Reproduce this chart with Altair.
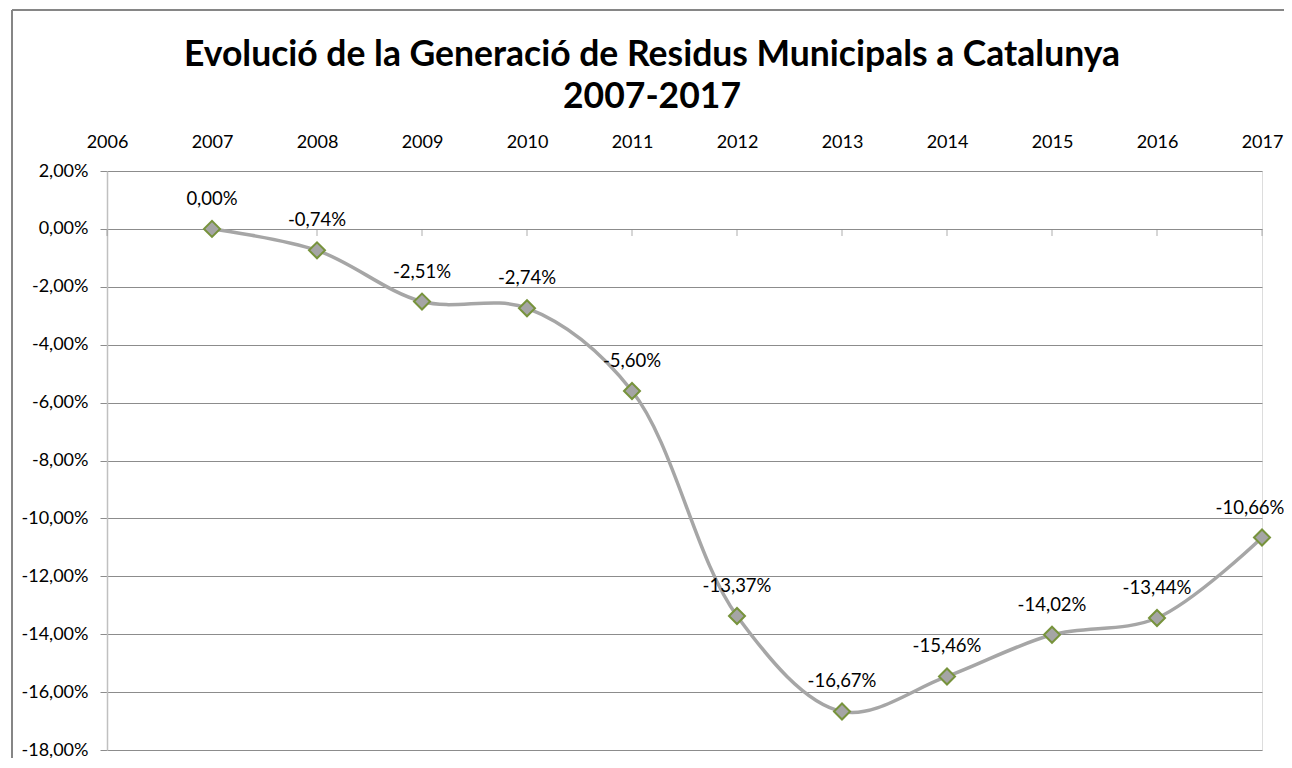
import altair as alt
import pandas as pd

years = [2007, 2008, 2009, 2010, 2011, 2012, 2013, 2014, 2015, 2016, 2017]
values = [0.00, -0.74, -2.51, -2.74, -5.60, -13.37, -16.67, -15.46, -14.02, -13.44, -10.66]
axis_years = list(range(2006, 2018))
y_ticks = list(range(-18, 3, 2))
title_lines = ["Evolució de la Generació de Residus Municipals a Catalunya", "2007-2017"]

df = pd.DataFrame({"year": years, "v": values})
tick_df = pd.DataFrame({"year": axis_years, "v": [0] * len(axis_years)})
one = pd.DataFrame({"k": [0]})

FONT = "Lato"
GRID = "#8c8c8c"
FMT = "replace(replace(format({}, '.2f'), '.', ','), '\u2212', '-') + '%'"

xs = alt.Scale(domain=[2006, 2017], nice=False, zero=False)
ys = alt.Scale(domain=[-18, 2], nice=False, zero=False)

x_enc = alt.X("year:Q", scale=xs, axis=alt.Axis(
    orient="top", values=axis_years, format="d", grid=False, domain=False,
    ticks=False, labelPadding=20, labelFontSize=18, labelFont=FONT,
    labelColor="#000000", title=None, labelFlush=False))
y_enc = alt.Y("v:Q", scale=ys, axis=alt.Axis(
    values=y_ticks, grid=True, gridColor=GRID, gridWidth=1,
    domainColor="#c0c0c0", domainWidth=1.5, tickColor=GRID, tickSize=7,
    labelPadding=12, labelFontSize=18, labelFont=FONT, labelColor="#000000",
    labelExpr=FMT.format("datum.value"),
    title=None))

base = alt.Chart(df)

line = base.mark_line(interpolate="catmull-rom", color="#a6a6a6", strokeWidth=3.5).encode(
    x=x_enc, y=y_enc)

points = base.mark_point(shape="diamond", filled=True, size=256, fill="#a5a5a5",
                         stroke="#77933c", strokeWidth=2, opacity=1).encode(
    x=alt.X("year:Q", scale=xs), y=alt.Y("v:Q", scale=ys))

lab_enc = dict(x=alt.X("year:Q", scale=xs), y=alt.Y("v:Q", scale=ys), text="lab:N")
labels = base.transform_calculate(
    lab=FMT.format("datum.v")
).transform_filter("datum.year < 2017").mark_text(
    dy=-30, fontSize=18.5, font=FONT, color="#000000", baseline="middle").encode(**lab_enc)
label_last = base.transform_calculate(
    lab=FMT.format("datum.v")
).transform_filter("datum.year == 2017").mark_text(
    dy=-30, dx=-12, fontSize=18.5, font=FONT, color="#000000", baseline="middle").encode(**lab_enc)

zero_ticks = alt.Chart(tick_df).mark_tick(orient="vertical", size=7, yOffset=3.5,
                                           thickness=1, color=GRID).encode(
    x=alt.X("year:Q", scale=xs), y=alt.Y("v:Q", scale=ys))

frame_left = alt.Chart(one).mark_rule(color="#868686", strokeWidth=2).encode(
    x=alt.value(-95), y=alt.value(-161), y2=alt.value(700))
frame_top = alt.Chart(one).mark_rule(color="#868686", strokeWidth=2).encode(
    x=alt.value(-95), x2=alt.value(1300), y=alt.value(-161))

title1 = alt.Chart(one).mark_text(fontSize=35.5, font=FONT, fontWeight="bold",
                                  color="#000000", baseline="middle", align="center").encode(
    x=alt.value(545), y=alt.value(-116), text=alt.value(title_lines[0]))
title2 = alt.Chart(one).mark_text(fontSize=35.5, font=FONT, fontWeight="bold",
                                  color="#000000", baseline="middle", align="center").encode(
    x=alt.value(545), y=alt.value(-74), text=alt.value(title_lines[1]))

chart = alt.layer(frame_left, frame_top, zero_ticks, line, points, labels, label_last,
                  title1, title2).properties(
    width=1155, height=579,
    autosize=alt.AutoSizeParams(type="none"),
    padding={"left": 99, "top": 163, "right": 22, "bottom": 8},
).configure_view(stroke=None).configure(background="#ffffff")

chart.save("out.html", embed_options={"renderer": "svg", "actions": False})
